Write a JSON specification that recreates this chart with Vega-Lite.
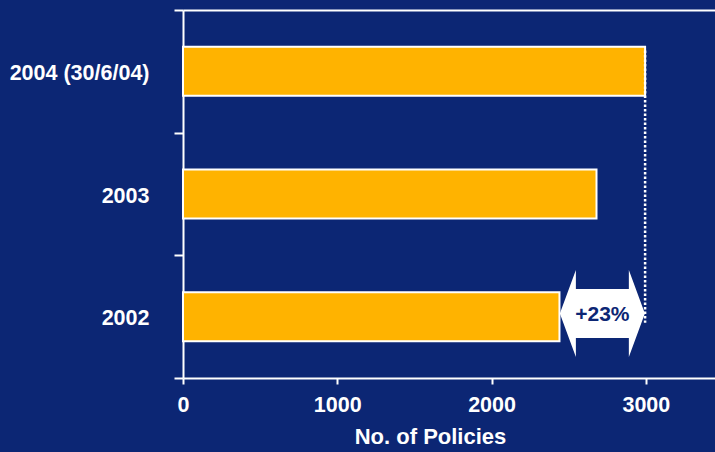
{
  "$schema": "https://vega.github.io/schema/vega-lite/v6.json",
  "width": 532,
  "height": 368,
  "autosize": {"type": "none"},
  "padding": {"left": 183, "top": 10, "right": 0, "bottom": 74},
  "background": "#0C2674",
  "config": {"view": {"stroke": null}, "font": "Liberation Sans"},
  "datasets": {
    "policies": [
      {"year": "2004 (30/6/04)", "policies": 2995},
      {"year": "2003", "policies": 2680},
      {"year": "2002", "policies": 2440}
    ],
    "growth": [
      {"from_year": "2004 (30/6/04)", "to_year": "2002", "at": 2995, "mid": 2718, "label": "+23%"}
    ]
  },
  "encoding": {
    "y": {
      "type": "nominal",
      "title": null,
      "scale": {"domain": ["2004 (30/6/04)", "2003", "2002"], "paddingInner": 0, "paddingOuter": 0},
      "axis": {
        "title": null, "tickBand": "extent", "tickSize": 9, "tickWidth": 2, "tickColor": "white",
        "domainColor": "white", "domainWidth": 2, "labelColor": "white", "labelFontSize": 21.5,
        "labelFontWeight": "bold", "labelFont": "Liberation Sans", "labelPadding": 25, "labelLimit": 0,
        "labelOffset": 2, "grid": false
      }
    }
  },
  "layer": [
    {
      "data": {"name": "policies"},
      "mark": {"type": "bar", "color": "#FFB300", "stroke": "white", "strokeWidth": 2, "height": {"band": 0.4}},
      "encoding": {
        "y": {"field": "year"},
        "x": {
          "field": "policies", "type": "quantitative",
          "scale": {"domain": [0, 3448], "nice": false},
          "axis": {
            "values": [0, 1000, 2000, 3000], "format": "d", "grid": false, "title": "No. of Policies",
            "titleColor": "white", "titleFontSize": 22, "titleFontWeight": "bold", "titleFont": "Liberation Sans",
            "titlePadding": 11, "titleX": 247,
            "labelColor": "white", "labelFontSize": 21.5, "labelFontWeight": "bold", "labelFont": "Liberation Sans",
            "labelPadding": 10, "labelFlush": false,
            "tickColor": "white", "tickWidth": 2, "tickSize": 6,
            "domainColor": "white", "domainWidth": 2
          }
        }
      }
    },
    {
      "data": {"name": "growth"},
      "mark": {"type": "rule", "stroke": "white", "strokeWidth": 2.5, "strokeDash": [2.5, 2]},
      "encoding": {
        "x": {
          "field": "at", "type": "quantitative",
          "axis": {"orient": "top", "labels": false, "ticks": false, "title": null, "grid": false, "domainColor": "white", "domainWidth": 2}
        },
        "y": {"field": "from_year", "bandPosition": 0.33},
        "y2": {"field": "to_year", "bandPosition": 0.55}
      }
    },
    {
      "data": {"name": "growth"},
      "mark": {
        "type": "point",
        "shape": "M-0.966,-0.073L-0.602,-1.061L-0.602,-0.63L0.602,-0.63L0.602,-1.061L0.966,-0.073L0.602,0.916L0.602,0.484L-0.602,0.484L-0.602,0.916Z",
        "size": 7744, "filled": true, "fill": "white", "opacity": 1, "strokeWidth": 0
      },
      "encoding": {
        "x": {"field": "mid", "type": "quantitative", "axis": null},
        "y": {"field": "to_year"}
      }
    },
    {
      "data": {"name": "growth"},
      "mark": {"type": "text", "font": "Liberation Sans", "fontWeight": "bold", "fontSize": 21, "color": "#0C2674", "dy": -2},
      "encoding": {
        "x": {"field": "mid", "type": "quantitative", "axis": null},
        "y": {"field": "to_year"},
        "text": {"field": "label"}
      }
    }
  ],
  "resolve": {"axis": {"x": "independent"}}
}
